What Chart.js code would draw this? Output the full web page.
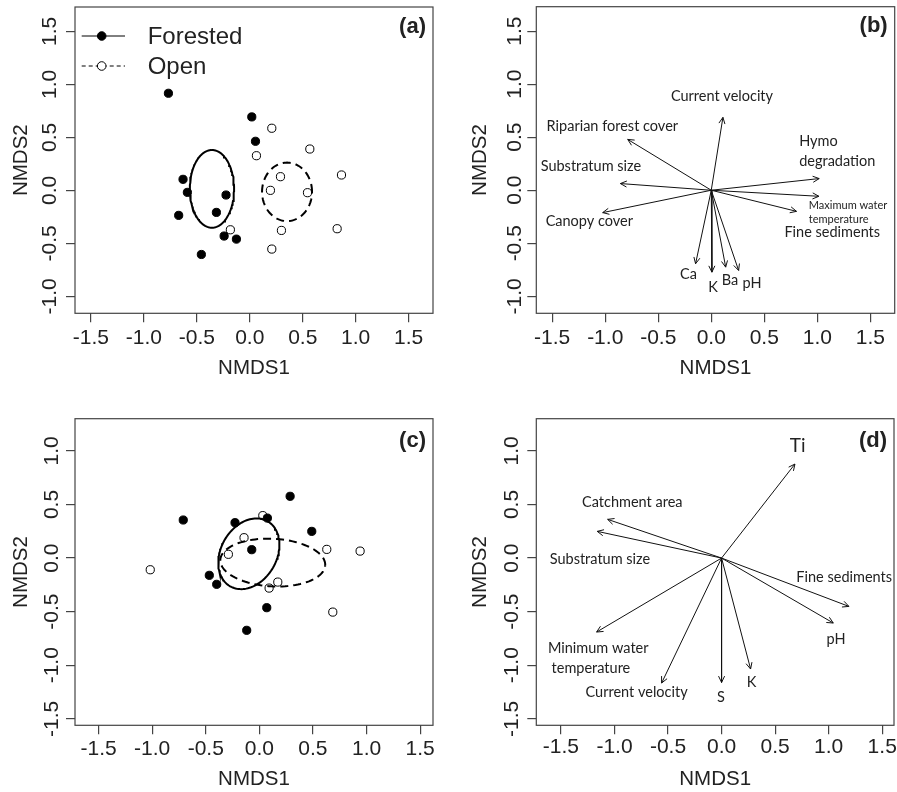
<!DOCTYPE html>
<html>
<head>
<meta charset="utf-8">
<script src="https://cdn.jsdelivr.net/npm/chart.js@4.4.1/dist/chart.umd.min.js"></script>
<style>
  body { margin: 0; background: #fff; }
  canvas { position: absolute; }
</style>
</head>
<body>
<canvas id="panelA" width="448" height="396" style="left:0;top:0"></canvas>
<canvas id="panelB" width="449" height="396" style="left:448px;top:0"></canvas>
<canvas id="panelC" width="448" height="396" style="left:0;top:396px"></canvas>
<canvas id="panelD" width="449" height="396" style="left:448px;top:396px"></canvas>
<script>
// (a) sites, forested vs open
const aForestedX = [-0.768, 0.019, 0.054, -0.630, -0.589, -0.224, -0.671, -0.315, -0.242, -0.126, -0.457];
const aForestedY = [0.916, 0.693, 0.463, 0.104, -0.019, -0.044, -0.236, -0.208, -0.431, -0.460, -0.605];
const aOpenX = [0.208, 0.567, 0.063, 0.290, 0.866, 0.195, 0.545, -0.183, 0.299, 0.825, 0.208];
const aOpenY = [0.586, 0.390, 0.327, 0.129, 0.145, 0.000, -0.022, -0.372, -0.378, -0.362, -0.554];
// ellipses: centre x, centre y, semi-axis a, semi-axis b, angle of a (deg)
const aForestedEllipse = [-0.357, 0.014, 0.367, 0.209, 90];
const aOpenEllipse = [0.352, -0.014, 0.236, 0.276, 0];

// (b) fitted variables
const bVars = ['Current velocity', 'Riparian forest cover', 'Substratum size', 'Canopy cover', 'Hymo degradation',
  'Maximum water temperature', 'Fine sediments', 'Ca', 'K', 'Ba', 'pH'];
const bArrowX = [0.110, -0.788, -0.857, -1.024, 1.018, 1.015, 0.804, -0.148, 0.006, 0.136, 0.258];
const bArrowY = [0.687, 0.479, 0.063, -0.211, 0.110, -0.057, -0.199, -0.693, -0.772, -0.725, -0.756];
const bLabelText = ['Current velocity', 'Riparian forest cover', 'Substratum size', 'Canopy cover', 'Hymo', 'degradation',
  'Maximum water', 'temperature', 'Fine sediments', 'Ca', 'K', 'Ba', 'pH'];
const bLabelX = [0.101, -0.933, -1.135, -1.150, 0.829, 0.829, 0.920, 0.920, 1.141, -0.214, 0.016, 0.176, 0.385];
const bLabelY = [0.882, 0.599, 0.221, -0.293, 0.457, 0.274, -0.148, -0.277, -0.400, -0.788, -0.914, -0.851, -0.876];

// (c) sites, second period
const cForestedX = [-0.710, -0.227, 0.075, 0.287, 0.489, -0.071, -0.467, -0.398, 0.069, -0.118];
const cForestedY = [0.355, 0.330, 0.373, 0.576, 0.249, 0.078, -0.161, -0.245, -0.463, -0.674];
const cOpenX = [-1.018, 0.032, -0.143, -0.289, 0.629, 0.940, 0.172, 0.091, 0.685];
const cOpenY = [-0.109, 0.396, 0.190, 0.035, 0.081, 0.065, -0.224, -0.280, -0.504];
const cForestedEllipse = [-0.098, 0.040, 0.35, 0.26, 60];
const cOpenEllipse = [0.125, -0.042, 0.49, 0.222, -3];

// (d) fitted variables
const dVars = ['Ti', 'Catchment area', 'Substratum size', 'Fine sediments', 'pH', 'Minimum water temperature',
  'Current velocity', 'S', 'K'];
const dArrowX = [0.685, -1.064, -1.161, 1.189, 1.043, -1.167, -0.560, 0.000, 0.271];
const dArrowY = [0.877, 0.361, 0.249, -0.451, -0.606, -0.690, -1.166, -1.160, -1.035];
const dLabelText = ['Ti', 'Catchment area', 'Substratum size', 'Fine sediments', 'pH', 'Minimum water', 'temperature',
  'Current velocity', 'S', 'K'];
const dLabelX = [0.710, -0.834, -1.136, 1.145, 1.068, -1.152, -1.220, -0.794, -0.006, 0.280];
const dLabelY = [1.042, 0.519, -0.012, -0.180, -0.762, -0.840, -1.026, -1.253, -1.300, -1.160];

const INK = '#222';
const AXIS = '#444';
const SANS = "'Liberation Sans', Arial, sans-serif";
const LABEL_FONT = "Lato, 'Open Sans', sans-serif";

function toPoints(xs, ys) {
  return xs.map((x, i) => ({ x: x, y: ys[i] }));
}

// outline of an ellipse from its centre, semi-axes and angle
function ellipsePoints(e) {
  const [cx, cy, a, b, deg] = e;
  const t = deg * Math.PI / 180;
  const pts = [];
  for (let i = 0; i <= 120; i++) {
    const s = i / 120 * 2 * Math.PI;
    pts.push({
      x: cx + a * Math.cos(s) * Math.cos(t) - b * Math.sin(s) * Math.sin(t),
      y: cy + a * Math.cos(s) * Math.sin(t) + b * Math.sin(s) * Math.cos(t)
    });
  }
  return pts;
}

function siteSets(fx, fy, ox, oy, fEll, oEll) {
  return [
    { data: ellipsePoints(fEll), showLine: true, pointRadius: 0, borderColor: '#000', borderWidth: 2, order: 0 },
    { data: ellipsePoints(oEll), showLine: true, pointRadius: 0, borderColor: '#000', borderWidth: 2, borderDash: [8, 5], order: 0 },
    { data: toPoints(fx, fy), pointRadius: 4.1, borderWidth: 1, backgroundColor: '#000', borderColor: '#000', order: 1 },
    { data: toPoints(ox, oy), pointRadius: 4.1, borderWidth: 1, backgroundColor: '#fff', borderColor: '#000', order: 2 }
  ];
}

function arrowSets(xs, ys) {
  return xs.map((x, i) => ({
    data: [{ x: 0, y: 0 }, { x: x, y: ys[i] }],
    arrow: true, showLine: true, pointRadius: 0, borderColor: '#111', borderWidth: 1
  }));
}

// frame around plot region
const boxPlugin = {
  id: 'box',
  afterDatasetsDraw(chart) {
    const a = chart.chartArea;
    const ctx = chart.ctx;
    ctx.save();
    ctx.strokeStyle = AXIS;
    ctx.lineWidth = 1.2;
    ctx.strokeRect(a.left, a.top, a.right - a.left, a.bottom - a.top);
    ctx.restore();
  }
};

// open arrow heads at the end of each vector
const arrowHeads = {
  id: 'arrowHeads',
  afterDatasetsDraw(chart) {
    const ctx = chart.ctx;
    ctx.save();
    ctx.strokeStyle = '#111';
    ctx.lineWidth = 1;
    chart.data.datasets.forEach((ds, i) => {
      if (!ds.arrow) return;
      const pts = chart.getDatasetMeta(i).data;
      const p0 = pts[0], p1 = pts[1];
      const ang = Math.atan2(p1.y - p0.y, p1.x - p0.x);
      const len = 7, spread = Math.PI / 7;
      ctx.beginPath();
      ctx.moveTo(p1.x - len * Math.cos(ang - spread), p1.y - len * Math.sin(ang - spread));
      ctx.lineTo(p1.x, p1.y);
      ctx.lineTo(p1.x - len * Math.cos(ang + spread), p1.y - len * Math.sin(ang + spread));
      ctx.stroke();
    });
    ctx.restore();
  }
};

// variable names next to the arrows
const varLabels = {
  id: 'varLabels',
  afterDatasetsDraw(chart, args, opts) {
    if (!opts.text) return;
    const ctx = chart.ctx;
    const xs = chart.scales.x, ys = chart.scales.y;
    ctx.save();
    ctx.fillStyle = INK;
    ctx.textBaseline = 'middle';
    opts.text.forEach((t, i) => {
      const st = (opts.style && opts.style[t]) || {};
      ctx.font = (st.size || 14.5) + 'px ' + LABEL_FONT;
      ctx.textAlign = st.align || 'center';
      ctx.fillText(t, xs.getPixelForValue(opts.x[i]), ys.getPixelForValue(opts.y[i]));
    });
    ctx.restore();
  }
};

// panel letter in the top right corner
const panelTag = {
  id: 'panelTag',
  afterDraw(chart, args, opts) {
    const a = chart.chartArea;
    const ctx = chart.ctx;
    ctx.save();
    ctx.font = 'bold 22px ' + SANS;
    ctx.fillStyle = INK;
    ctx.textAlign = 'right';
    ctx.textBaseline = 'middle';
    ctx.fillText(opts.tag, a.right - 7, a.top + opts.dy);
    ctx.restore();
  }
};

// legend of panel (a): line + symbol + text, inside the plot
const siteLegend = {
  id: 'siteLegend',
  afterDraw(chart, args, opts) {
    if (!opts.show) return;
    const a = chart.chartArea;
    const ctx = chart.ctx;
    const rows = [
      { label: 'Forested', dash: [], fill: '#000', dy: 29 },
      { label: 'Open', dash: [4, 3], fill: '#fff', dy: 59 }
    ];
    ctx.save();
    rows.forEach(r => {
      const y = a.top + r.dy;
      ctx.strokeStyle = '#000';
      ctx.lineWidth = 1;
      ctx.setLineDash(r.dash);
      ctx.beginPath();
      ctx.moveTo(a.left + 6.7, y);
      ctx.lineTo(a.left + 50, y);
      ctx.stroke();
      ctx.setLineDash([]);
      ctx.beginPath();
      ctx.arc(a.left + 26.7, y, 4.3, 0, 2 * Math.PI);
      ctx.fillStyle = r.fill;
      ctx.fill();
      ctx.stroke();
      ctx.fillStyle = INK;
      ctx.font = '24px ' + SANS;
      ctx.textAlign = 'left';
      ctx.textBaseline = 'middle';
      ctx.fillText(r.label, a.left + 72.7, y + 1);
    });
    ctx.restore();
  }
};

function makePanel(id, g, datasets, plugOpts) {
  const fmt = v => Number(v).toFixed(1);
  return new Chart(document.getElementById(id), {
    type: 'scatter',
    data: { datasets: datasets },
    options: {
      responsive: false,
      animation: false,
      events: [],
      layout: { padding: { left: 0, top: g.top, right: g.right, bottom: 0 } },
      plugins: Object.assign({ legend: { display: false }, tooltip: { enabled: false } }, plugOpts),
      scales: {
        x: {
          type: 'linear', position: 'bottom', min: g.xMin, max: g.xMax,
          afterFit: s => { s.height = g.xAxisH; s.paddingLeft = 0; s.paddingRight = 0; },
          grid: { drawOnChartArea: false, tickLength: 9, color: AXIS, lineWidth: 1.2 },
          border: { display: false },
          ticks: { stepSize: 0.5, includeBounds: false, autoSkip: false, maxRotation: 0, padding: g.xTickPad,
            color: INK, font: { family: SANS, size: 21 }, callback: fmt },
          title: { display: true, text: 'NMDS1', color: INK, font: { family: SANS, size: 20.5 },
            padding: { top: 0, bottom: g.xTitlePad } }
        },
        y: {
          type: 'linear', position: 'left', min: g.yMin, max: g.yMax,
          afterFit: s => { s.width = g.yAxisW; s.paddingTop = 0; s.paddingBottom = 0; },
          grid: { drawOnChartArea: false, tickLength: 9, color: AXIS, lineWidth: 1.2 },
          border: { display: false },
          ticks: { stepSize: 0.5, includeBounds: false, autoSkip: false, minRotation: 90, maxRotation: 90,
            crossAlign: 'center', padding: g.yTickPad, color: INK, font: { family: SANS, size: 21 }, callback: fmt },
          title: { display: true, text: 'NMDS2', color: INK, font: { family: SANS, size: 20.5 },
            padding: { top: g.yTitlePad, bottom: 0 } }
        }
      }
    },
    plugins: [boxPlugin, arrowHeads, varLabels, panelTag, siteLegend]
  });
}

const smallLabel = { size: 11, align: 'left' };
const leftLabel = { size: 14.5, align: 'left' };

makePanel('panelA',
  { xMin: -1.65, xMax: 1.73, yMin: -1.16, yMax: 1.73, top: 7, right: 15, xAxisH: 82.7, yAxisW: 75,
    yTickPad: -2.4, xTickPad: 3.4, yTitlePad: 9.4, xTitlePad: 15.7 },
  siteSets(aForestedX, aForestedY, aOpenX, aOpenY, aForestedEllipse, aOpenEllipse),
  { panelTag: { tag: '(a)', dy: 20 }, siteLegend: { show: true } });

makePanel('panelB',
  { xMin: -1.65, xMax: 1.73, yMin: -1.16, yMax: 1.73, top: 6.7, right: 2.3, xAxisH: 82.7, yAxisW: 88.3,
    yTickPad: -6.1, xTickPad: 3.4, yTitlePad: 20, xTitlePad: 15.4 },
  arrowSets(bArrowX, bArrowY),
  { panelTag: { tag: '(b)', dy: 19 },
    varLabels: { text: bLabelText, x: bLabelX, y: bLabelY,
      style: { 'Hymo': leftLabel, 'degradation': leftLabel, 'Maximum water': smallLabel, 'temperature': smallLabel } } });

makePanel('panelC',
  { xMin: -1.72, xMax: 1.62, yMin: -1.56, yMax: 1.30, top: 22.7, right: 15, xAxisH: 66.7, yAxisW: 75,
    yTickPad: -3.8, xTickPad: 2.4, yTitlePad: 9.4, xTitlePad: 0.4 },
  siteSets(cForestedX, cForestedY, cOpenX, cOpenY, cForestedEllipse, cOpenEllipse),
  { panelTag: { tag: '(c)', dy: 22 } });

makePanel('panelD',
  { xMin: -1.73, xMax: 1.61, yMin: -1.56, yMax: 1.30, top: 22.7, right: 3, xAxisH: 66.7, yAxisW: 88.3,
    yTickPad: -2.8, xTickPad: 0.8, yTitlePad: 20, xTitlePad: 0.4 },
  arrowSets(dArrowX, dArrowY),
  { panelTag: { tag: '(d)', dy: 22 },
    varLabels: { text: dLabelText, x: dLabelX, y: dLabelY, style: { 'Ti': { size: 19 } } } });
</script>
</body>
</html>
